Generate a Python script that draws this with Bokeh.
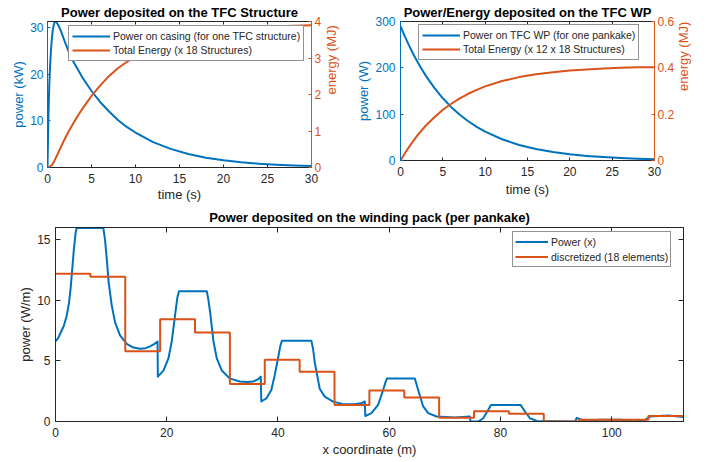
import math
from bokeh.plotting import figure
from bokeh.models import Range1d, LinearAxis, FixedTicker
from bokeh.layouts import column, row
from bokeh.embed import file_html
from bokeh.resources import INLINE

# ---------------- data ----------------
# Top-left: power on casing (kW) and total energy (MJ)
t1 = [0, 0.1, 0.2, 0.3, 0.4, 0.5, 0.6, 0.7, 0.8, 0.9, 1.0, 1.2, 1.5, 2, 2.5, 3, 4, 5, 6, 7, 8,
      9, 10, 12, 14, 16, 18, 20, 22, 24, 26, 28, 30]
power1 = [0, 10.5, 17.5, 22.0, 25.3, 27.7, 29.4, 30.5, 31.1, 31.3, 31.2, 30.6, 29.4, 26.8, 24.4,
          22.5, 19.2, 16.4, 14.0, 12.0, 10.2, 8.7, 7.5, 5.45, 4.0, 2.9, 2.1, 1.55, 1.13, 0.82,
          0.6, 0.44, 0.32]
tE1 = [0, 0.25, 0.5, 0.75, 1, 1.5, 2, 2.5, 3, 3.5, 4, 4.5, 5, 6, 7, 8, 9, 10, 12, 14, 16, 18,
       20, 22, 25, 30]
energy1 = [0, 0.02, 0.07, 0.16, 0.29, 0.55, 0.80, 1.03, 1.24, 1.44, 1.62, 1.79, 1.96, 2.25,
           2.51, 2.72, 2.89, 3.04, 3.28, 3.46, 3.59, 3.69, 3.76, 3.81, 3.86, 3.90]

# Top-right: power on TFC WP (W) and total energy (MJ)
t2 = [0, 0.5, 1, 1.5, 2, 2.5, 3, 4, 5, 6, 7, 8, 9, 10, 12, 14, 16, 18, 20, 22, 24, 26, 28, 30]
power2 = [290, 268.5, 248.5, 230, 213, 197.3, 182.7, 156.6, 134.3, 115.1, 98.9, 84.7, 72.5,
          62.4, 45.8, 33.6, 24.7, 18.3, 13.3, 9.9, 7.3, 5.2, 3.8, 2.9]
energy2 = [0, 0.030, 0.058, 0.084, 0.108, 0.130, 0.151, 0.187, 0.219, 0.245, 0.268, 0.288,
           0.305, 0.320, 0.343, 0.360, 0.372, 0.381, 0.388, 0.393, 0.397, 0.400, 0.402, 0.403]

# Bottom: power along the winding pack (W/m)
x3 = [0, 0.5, 1.0, 1.5, 2.0, 2.4, 2.7, 3.0, 3.3, 3.6, 3.8, 8.6, 8.9, 9.2, 9.55, 10.1, 10.7,
      11.6, 12.8, 14.0, 15.2, 16.2, 17.0, 17.8, 18.35,
      18.4, 19.4, 20.3, 20.9, 21.5, 21.9, 22.2, 27.2, 27.5, 27.8, 28.4, 29.0, 29.9, 31.3, 33.1,
      34.5, 35.5, 36.3, 36.9,
      37.0, 37.9, 38.8, 39.4, 40.0, 40.4, 40.7, 46.0, 46.3, 46.6, 47.5, 48.4, 49.9, 51.6, 53.7,
      55.0, 55.6,
      55.7, 56.8, 58.0, 58.9, 59.3, 59.6, 64.6, 65.2, 66.1, 67.0, 68.5, 71.8, 74.5,
      74.6, 76.0, 76.9, 77.8, 78.3, 83.6, 84.4, 85.3, 86.5, 89.8, 93.4,
      93.7, 94.6, 95.8, 97.6, 101.8, 103.9, 106.0, 106.9, 110.2, 112.9]
p3_vals = [6.6, 6.9, 7.4, 7.9, 8.7, 9.7, 10.9, 12.5, 14.2, 15.5, 15.96, 15.96, 15.0, 13.5, 11.5,
           9.6, 8.2, 7.1, 6.4, 6.1, 6.0, 6.05, 6.2, 6.4, 6.6,
           3.7, 4.2, 5.2, 6.6, 8.8, 10.2, 10.75, 10.75, 10.0, 9.0, 6.6, 5.2, 4.2, 3.56, 3.3,
           3.25, 3.3, 3.45, 3.7,
           1.65, 1.9, 2.6, 3.8, 5.2, 6.2, 6.65, 6.65, 6.0, 4.9, 2.7, 2.05, 1.64, 1.45, 1.43,
           1.5, 1.65,
           0.45, 0.69, 1.37, 2.6, 3.2, 3.55, 3.55, 2.6, 1.24, 0.69, 0.41, 0.33, 0.41,
           0.0, 0.0, 0.27, 0.96, 1.37, 1.37, 0.82, 0.27, 0.05, 0.02, 0.0,
           0.3, 0.14, 0.0, 0.14, 0.14, 0.0, 0.14, 0.41, 0.5, 0.38]
edges3 = [0, 6.27, 12.54, 18.81, 25.08, 31.35, 37.62, 43.89, 50.16, 56.43, 62.7, 68.97, 75.24,
          81.51, 87.78, 94.05, 100.32, 106.59, 112.86]
levels3 = [12.18, 11.94, 5.80, 8.43, 7.34, 3.09, 5.09, 4.11, 1.36, 2.55, 1.98, 0.30, 0.85,
           0.64, 0.0, 0.14, 0.14, 0.45]

# ---------------- styling helpers ----------------
BLUE = "#0072BD"
ORANGE = "#D95319"
GRAY = "#262626"
FONT = "Liberation Sans"


def style_axis(ax, color, tick_len, standoff=4, label_standoff=2, labels=True):
    ax.axis_line_color = color
    ax.major_tick_line_color = color
    ax.major_tick_in = tick_len
    ax.major_tick_out = 0
    ax.minor_tick_line_color = None
    ax.major_label_text_font = FONT
    if labels:
        ax.major_label_text_color = color
        ax.major_label_text_font_size = "12px"
        ax.major_label_standoff = standoff
    else:
        ax.major_label_text_color = None
        ax.major_label_text_font_size = "1px"
        ax.major_label_standoff = 0
    ax.axis_label_text_color = color
    ax.axis_label_text_font = FONT
    ax.axis_label_text_font_size = "13px"
    ax.axis_label_text_font_style = "normal"
    ax.axis_label_standoff = label_standoff


def style_legend(lg, loc, glyph_w, row_h, pad):
    lg.location = loc
    lg.label_text_font = FONT
    lg.label_text_font_size = "10.5px"
    lg.label_text_color = GRAY
    lg.border_line_color = GRAY
    lg.border_line_width = 1
    lg.background_fill_color = "white"
    lg.background_fill_alpha = 1
    lg.glyph_width = glyph_w
    lg.glyph_height = row_h
    lg.label_height = row_h
    lg.padding = pad
    lg.spacing = 0
    lg.margin = 0
    lg.label_standoff = 3


def base_fig(title, fw, fh, xr, yr, bl, br, bt, bb, standoff):
    p = figure(title=title, frame_width=fw, frame_height=fh, x_range=xr, y_range=yr,
               output_backend="svg", toolbar_location=None,
               min_border_left=bl, min_border_right=br, min_border_top=bt, min_border_bottom=bb,
               background_fill_color="white", border_fill_color="white")
    p.title.align = "center"
    p.title.text_font = FONT
    p.title.text_font_size = "13px"
    p.title.text_font_style = "bold"
    p.title.text_color = "black"
    p.title.standoff = standoff
    p.outline_line_color = GRAY
    p.outline_line_width = 1
    p.xgrid.visible = False
    p.ygrid.visible = False
    return p


# ---------------- top-left ----------------
FW1, FH1 = 264, 146
p1 = base_fig("Power deposited on the TFC Structure", FW1, FH1, Range1d(0, 30),
              Range1d(0, 31.3), 47, 35, 21, 36, 4)
p1.extra_y_ranges = {"energy": Range1d(0, 4)}
style_axis(p1.xaxis[0], GRAY, 3, standoff=6, label_standoff=1)
p1.xaxis[0].ticker = FixedTicker(ticks=[0, 5, 10, 15, 20, 25, 30])
p1.xaxis[0].axis_label = "time (s)"
style_axis(p1.yaxis[0], BLUE, 3, standoff=4, label_standoff=1)
p1.yaxis[0].ticker = FixedTicker(ticks=[0, 10, 20, 30])
p1.yaxis[0].axis_label = "power (kW)"
ax_r1 = LinearAxis(y_range_name="energy", axis_label="energy (MJ)",
                   ticker=FixedTicker(ticks=[0, 1, 2, 3, 4]))
style_axis(ax_r1, ORANGE, 3, standoff=3, label_standoff=7)
ax_r1.axis_label_orientation = math.pi / 2
p1.add_layout(ax_r1, "right")
ax_t1 = LinearAxis(ticker=FixedTicker(ticks=[0, 5, 10, 15, 20, 25, 30]))
style_axis(ax_t1, GRAY, 3, labels=False)
p1.add_layout(ax_t1, "above")

p1.line(t1, power1, line_width=2, color=BLUE, line_join="round",
        legend_label="Power on casing (for one TFC structure)")
p1.line(tE1, energy1, line_width=2, color=ORANGE, line_join="round", y_range_name="energy",
        legend_label="Total Energy (x 18 Structures)")
style_legend(p1.legend[0], (21, 106), 38, 14, 3)

# ---------------- top-right ----------------
FW2, FH2 = 254, 139
p2 = base_fig("Power/Energy deposited on the TFC WP", FW2, FH2, Range1d(0, 30),
              Range1d(0, 300), 51, 42, 21, 43, 4)
p2.extra_y_ranges = {"energy": Range1d(0, 0.6)}
style_axis(p2.xaxis[0], GRAY, 3, standoff=6, label_standoff=3)
p2.xaxis[0].ticker = FixedTicker(ticks=[0, 5, 10, 15, 20, 25, 30])
p2.xaxis[0].axis_label = "time (s)"
style_axis(p2.yaxis[0], BLUE, 3, standoff=5, label_standoff=1)
p2.yaxis[0].ticker = FixedTicker(ticks=[0, 100, 200, 300])
p2.yaxis[0].axis_label = "power (W)"
ax_r2 = LinearAxis(y_range_name="energy", axis_label="energy (MJ)",
                   ticker=FixedTicker(ticks=[0, 0.2, 0.4, 0.6]))
style_axis(ax_r2, ORANGE, 3, standoff=3, label_standoff=6)
ax_r2.axis_label_orientation = math.pi / 2
p2.add_layout(ax_r2, "right")
ax_t2 = LinearAxis(ticker=FixedTicker(ticks=[0, 5, 10, 15, 20, 25, 30]))
style_axis(ax_t2, GRAY, 3, labels=False)
p2.add_layout(ax_t2, "above")

p2.line(t2, power2, line_width=2, color=BLUE, line_join="round",
        legend_label="Power on TFC WP (for one pankake)")
p2.line(t2, energy2, line_width=2, color=ORANGE, line_join="round", y_range_name="energy",
        legend_label="Total Energy (x 12 x 18 Structures)")
style_legend(p2.legend[0], (18, 100), 38, 14, 3)

# ---------------- bottom ----------------
FW3, FH3 = 628, 194
p3 = base_fig("Power deposited on the winding pack (per pankake)", FW3, FH3,
              Range1d(0, 112.9), Range1d(0, 16), 55, 15, 23, 38, 5)
style_axis(p3.xaxis[0], GRAY, 5, standoff=6, label_standoff=2)
p3.xaxis[0].ticker = FixedTicker(ticks=[0, 20, 40, 60, 80, 100])
p3.xaxis[0].axis_label = "x coordinate (m)"
style_axis(p3.yaxis[0], GRAY, 5, standoff=5, label_standoff=1)
p3.yaxis[0].ticker = FixedTicker(ticks=[0, 5, 10, 15])
p3.yaxis[0].axis_label = "power (W/m)"
ax_t3 = LinearAxis(ticker=FixedTicker(ticks=[0, 20, 40, 60, 80, 100]))
style_axis(ax_t3, GRAY, 5, labels=False)
p3.add_layout(ax_t3, "above")
ax_r3 = LinearAxis(ticker=FixedTicker(ticks=[0, 5, 10, 15]))
style_axis(ax_r3, GRAY, 5, labels=False)
p3.add_layout(ax_r3, "right")

p3.line(x3, p3_vals, line_width=2, color=BLUE, line_join="round", legend_label="Power (x)")
p3.step(edges3, levels3 + [levels3[-1]], mode="after", line_width=2, color=ORANGE,
        legend_label="discretized (18 elements)")
style_legend(p3.legend[0], (457, 154), 33, 15, 2)

layout = column(row(p1, p2), p3)
open("out.html", "w").write(file_html(layout, INLINE))
